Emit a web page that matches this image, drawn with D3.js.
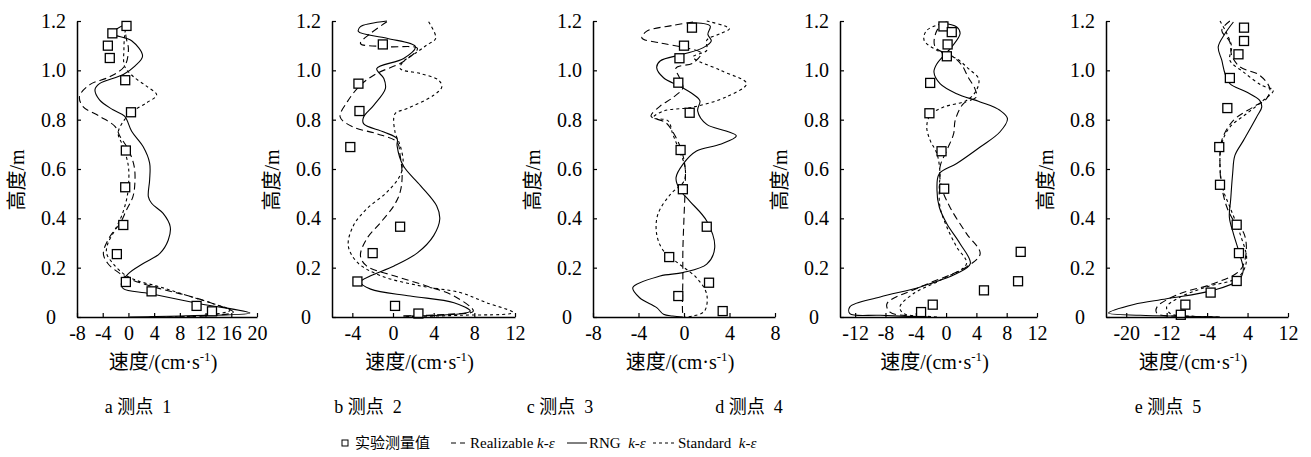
<!DOCTYPE html>
<html lang="zh">
<head>
<meta charset="UTF-8">
<title>测点速度剖面</title>
<script src="https://d3js.org/d3.v7.min.js"></script>
<style>
  body { margin: 0; background: #fff; }
  svg { font-family: "Liberation Serif", "Times New Roman", "Noto Sans CJK SC", serif; }
  .tick text { font-family: "Liberation Serif", "Times New Roman", serif; }
</style>
</head>
<body>
<svg width="1311" height="457"></svg>
<script>

// ---- data: [speed (cm/s), height (m)] ----
const heightTicks = [0, 0.2, 0.4, 0.6, 0.8, 1.0, 1.2];
const captions = ["a 测点 1", "b 测点 2", "c 测点 3", "d 测点 4", "e 测点 5"];
const xDomains = [[-8, 20], [-6, 12], [-8, 8], [-14, 12], [-24, 12]];
const xTicks = [
    [-8, -4, 0, 4, 8, 12, 16, 20],
    [-4, 0, 4, 8, 12],
    [-8, -4, 0, 4, 8],
    [-12, -8, -4, 0, 4, 8, 12],
    [-20, -12, -4, 4, 12]
];

const exp1 = [[-0.3,1.18],[-2.5,1.15],[-3.2,1.10],[-2.9,1.05],[-0.5,0.96],[0.4,0.83],[-0.4,0.675],[-0.5,0.526],[-0.8,0.373],[-1.8,0.255],[-0.4,0.142],[3.6,0.104],[10.6,0.045],[13.0,0.023]];
const rng1 = [[-0.2,1.19],[-2.5,1.15],[0.5,1.12],[2.2,1.058],[1.0,1.017],[-0.8,0.983],[-4.5,0.946],[-5.2,0.922],[-4.5,0.88],[-2.4,0.84],[-0.6,0.814],[0.5,0.753],[2.3,0.69],[3.3,0.624],[3.3,0.556],[3.1,0.488],[3.6,0.461],[5.4,0.42],[6.5,0.366],[6.2,0.312],[4.9,0.258],[2.3,0.217],[0,0.176],[-1.1,0.136],[-0.8,0.115],[3.3,0.095],[11.1,0.054],[18.9,0.016],[9.0,0.005],[0.2,0]];
const real1 = [[-0.3,1.19],[-0.4,1.14],[0,1.085],[-0.6,1.017],[-2.9,0.974],[-6.0,0.942],[-7.6,0.895],[-7.1,0.854],[-4.5,0.814],[-2.1,0.773],[-1.3,0.732],[0,0.678],[0.9,0.61],[1.0,0.542],[0.7,0.488],[-0.3,0.434],[-1.3,0.38],[-2.9,0.325],[-3.9,0.258],[-3.2,0.217],[-1.3,0.176],[0.7,0.149],[4.9,0.115],[9.0,0.088],[13.2,0.054],[16.3,0.02],[11.1,0.003],[3.3,0]];
const std1 = [[-0.3,1.19],[-0.6,1.14],[-0.7,1.085],[-0.6,1.017],[0.7,0.976],[2.8,0.936],[4.4,0.9],[2.8,0.868],[0.7,0.834],[-0.6,0.8],[-1.6,0.746],[-0.8,0.69],[0,0.61],[0,0.529],[-0.3,0.475],[-1.1,0.407],[-2.1,0.353],[-3.2,0.298],[-3.4,0.258],[-2.4,0.217],[-0.8,0.176],[1.2,0.149],[4.9,0.122],[9.0,0.088],[13.2,0.054],[15.8,0.027],[11.1,0.005],[3.3,0]];

const exp2 = [[-1.0,1.105],[-3.4,0.946],[-3.3,0.835],[-4.2,0.689],[0.7,0.366],[-2.0,0.259],[-3.5,0.144],[0.2,0.045],[2.5,0.014]];
const rng2 = [[-0.6,1.2],[-2.2,1.19],[-3.2,1.177],[-3.4,1.157],[-0.6,1.13],[2.2,1.096],[1.05,1.048],[-1.6,1.007],[-0.9,0.967],[-0.75,0.926],[-1.9,0.858],[-2.9,0.81],[-2.9,0.784],[-0.9,0.75],[0.4,0.723],[0.4,0.695],[1.0,0.614],[2.7,0.533],[4.3,0.45],[4.6,0.397],[4.0,0.33],[2.4,0.26],[0.1,0.207],[-2.2,0.167],[-3.2,0.142],[-2.2,0.113],[1.7,0.085],[6.0,0.058],[7.6,0.024],[6.6,0.013],[1.0,0.004]];
const real2 = [[-0.6,1.197],[-2.2,1.15],[-3.2,1.109],[-0.6,1.096],[2.4,1.089],[1.0,1.035],[-1.6,0.987],[-3.2,0.94],[-4.5,0.872],[-5.2,0.811],[-3.9,0.77],[-1.6,0.743],[0.4,0.709],[0.7,0.655],[0.9,0.574],[0.7,0.506],[0.1,0.452],[-1.2,0.384],[-2.6,0.316],[-3.2,0.248],[-2.6,0.207],[0.1,0.167],[3.3,0.126],[6.0,0.085],[7.9,0.024],[5.3,0.011],[1.0,0.004]];
const std2 = [[3.5,1.197],[4.2,1.13],[3.3,1.102],[2.4,1.075],[1.0,1.035],[0.7,1.007],[2.7,0.987],[4.5,0.96],[4.8,0.933],[4.0,0.899],[1.4,0.845],[0.2,0.824],[0.2,0.75],[0.7,0.696],[1.0,0.628],[0.7,0.574],[-0.6,0.506],[-2.6,0.438],[-3.9,0.37],[-4.4,0.289],[-3.5,0.221],[-1.2,0.167],[2.7,0.126],[6.6,0.099],[9.2,0.058],[11.8,0.018],[6.6,0.007],[1.0,0.001]];

const exp3 = [[0.7,1.173],[0,1.1],[-0.4,1.049],[-0.5,0.95],[0.5,0.828],[-0.3,0.677],[-0.1,0.518],[2.0,0.366],[-1.3,0.243],[2.2,0.139],[-0.5,0.085],[3.4,0.024]];
const rng3 = [[0.5,1.193],[2.3,1.18],[2.1,1.146],[2.4,1.119],[1.7,1.092],[-0.1,1.065],[-2.1,1.038],[-2.4,1.011],[-1.8,0.97],[-0.4,0.936],[0.8,0.903],[1.4,0.876],[1.2,0.836],[2.0,0.781],[3.7,0.754],[4.6,0.734],[3.2,0.7],[1.1,0.673],[-0.1,0.619],[-0.7,0.565],[-0.4,0.518],[0.5,0.47],[2.0,0.389],[2.7,0.281],[2.0,0.214],[-0.1,0.18],[-2.1,0.166],[-4.5,0.119],[-3.9,0.078],[-2.4,0.038],[-1.8,0.011],[-1.0,0.004],[-0.1,0]];
const real3 = [[0.8,1.196],[-1.0,1.182],[-3.3,1.158],[-3.7,1.131],[-2.1,1.111],[0.2,1.091],[1.5,1.07],[0.8,1.03],[-0.7,1.009],[-0.4,0.97],[-0.1,0.929],[-1.0,0.889],[-2.1,0.855],[-2.9,0.814],[-1.6,0.788],[-0.7,0.727],[-0.2,0.673],[0.1,0.605],[0.1,0.524],[0,0.403],[-0.1,0.268],[-0.1,0.159],[-0.1,0.011],[0,0]];
const std3 = [[2.0,1.2],[4.0,1.169],[3.2,1.149],[2.0,1.122],[2.0,1.081],[0.8,1.054],[3.2,1.0],[5.5,0.946],[3.7,0.892],[0.8,0.851],[-1.8,0.835],[-2.7,0.808],[-1.4,0.795],[-1.0,0.743],[-0.4,0.673],[0.1,0.605],[0,0.551],[-1.2,0.497],[-2.3,0.416],[-2.4,0.335],[-1.8,0.268],[-0.4,0.214],[1.1,0.159],[2.0,0.092],[1.8,0.024],[0.8,0.004],[0,0]];

const exp4 = [[-0.35,1.178],[0.75,1.155],[0.2,1.105],[0.1,1.057],[-2.1,0.949],[-2.2,0.826],[-0.6,0.672],[-0.25,0.52],[9.85,0.264],[9.5,0.145],[5.0,0.108],[-1.76,0.05],[-3.3,0.02]];
const rng4 = [[-0.6,1.192],[1.4,1.176],[1.85,1.149],[0.75,1.095],[-1.2,1.027],[-1.6,0.993],[-0.8,0.946],[1.4,0.905],[4.5,0.872],[7.1,0.838],[8.1,0.804],[7.1,0.75],[4.5,0.689],[1.4,0.622],[-0.9,0.581],[-1.2,0.514],[-0.9,0.446],[0.1,0.378],[1.85,0.297],[3.2,0.216],[1.4,0.176],[-3.4,0.122],[-8.7,0.081],[-12.7,0.041],[-12.7,0.014],[-8.7,0.007],[-2.6,0]];
const real4 = [[0.1,1.196],[-1.2,1.162],[-1.45,1.095],[1.0,1.054],[2.1,1.02],[2.9,0.973],[3.8,0.926],[4.0,0.892],[2.3,0.865],[1.2,0.797],[1.0,0.743],[0.1,0.676],[-0.8,0.608],[-0.6,0.527],[0.5,0.446],[2.7,0.338],[4.5,0.257],[2.7,0.203],[-3.4,0.122],[-7.8,0.054],[-7.4,0.02],[-4.3,0.003],[-1.7,0]];
const std4 = [[0.1,1.196],[-2.55,1.162],[-2.9,1.122],[-1.2,1.081],[1.4,1.047],[2.95,1.007],[4.3,0.966],[4.0,0.919],[2.7,0.878],[-0.35,0.851],[-2.1,0.818],[-2.55,0.77],[-2.1,0.716],[-1.2,0.662],[-0.8,0.581],[-0.9,0.527],[-0.8,0.446],[0.1,0.365],[1.4,0.284],[2.7,0.216],[-0.8,0.149],[-4.3,0.095],[-6.1,0.041],[-5.6,0.014],[-2.55,0.003],[-1.2,0]];

const exp5 = [[3.3,1.173],[3.3,1.119],[2.2,1.065],[0.5,0.969],[0,0.847],[-1.6,0.689],[-1.45,0.536],[1.85,0.374],[2.3,0.259],[1.85,0.146],[-3.3,0.099],[-8.3,0.05],[-9.2,0.009]];
const rng5 = [[1.2,1.196],[-0.45,1.149],[-1.8,1.095],[-1.1,1.041],[-0.45,0.986],[0.5,0.946],[3.8,0.912],[6.4,0.878],[6.8,0.851],[5.8,0.811],[3.2,0.716],[1.5,0.655],[1.05,0.581],[0.65,0.473],[0.4,0.405],[1.2,0.338],[2.4,0.257],[3.15,0.189],[2.2,0.149],[-2.8,0.108],[-12.0,0.074],[-18.5,0.051],[-23.5,0.016],[-17.2,0.007],[-8.7,0.003],[-1.45,0]];
const real5 = [[0.5,1.2],[-1.1,1.162],[0.5,1.115],[0.85,1.061],[2.5,1.014],[6.4,0.98],[8.4,0.926],[7.75,0.885],[5.1,0.851],[1.2,0.797],[-1.1,0.716],[-1.45,0.608],[-1.1,0.527],[-0.1,0.446],[1.2,0.392],[3.3,0.338],[3.7,0.257],[2.5,0.189],[-2.8,0.135],[-9.3,0.095],[-13.9,0.041],[-13.9,0.014],[-9.3,0.003],[-2.8,0]];
const std5 = [[-1.45,1.2],[-0.1,1.149],[0.85,1.095],[0.5,1.041],[3.2,0.993],[6.8,0.939],[9.1,0.919],[7.1,0.878],[3.8,0.824],[0.5,0.77],[-1.1,0.703],[-1.45,0.608],[-0.8,0.514],[0.5,0.446],[2.5,0.338],[3.8,0.23],[2.2,0.162],[-4.1,0.122],[-9.3,0.081],[-12.0,0.041],[-11.3,0.014],[-6.7,0.003],[-1.45,0]];

const expData = [exp1, exp2, exp3, exp4, exp5];
const rngData = [rng1, rng2, rng3, rng4, rng5];
const realData = [real1, real2, real3, real4, real5];
const stdData = [std1, std2, std3, std4, std5];

// ---- layout ----
const svg = d3.select("svg");
const axisX = [[77, 257], [332, 515], [593, 775], [840, 1037], [1106, 1288]];
const captionX = [138, 368, 560, 749, 1168];
const yScale = d3.scaleLinear().domain([0, 1.2]).range([317, 21]);
const fontFam = '"Liberation Serif", "Times New Roman", "Noto Sans CJK SC", serif';

const dashReal = "7,4";
const dashStd = "3,3";

expData.forEach((_, i) => {
    const xScale = d3.scaleLinear().domain(xDomains[i]).range(axisX[i]);
    const g = svg.append("g");

    const line = d3.line()
        .x(d => xScale(d[0]))
        .y(d => yScale(d[1]))
        .curve(d3.curveCatmullRom.alpha(0.5));

    g.append("path").datum(stdData[i])
        .attr("d", line).attr("fill", "none")
        .attr("stroke", "#000").attr("stroke-width", 1.1)
        .attr("stroke-dasharray", dashStd);
    g.append("path").datum(realData[i])
        .attr("d", line).attr("fill", "none")
        .attr("stroke", "#000").attr("stroke-width", 1.1)
        .attr("stroke-dasharray", dashReal);
    g.append("path").datum(rngData[i])
        .attr("d", line).attr("fill", "none")
        .attr("stroke", "#000").attr("stroke-width", 1.1);

    // measured points
    g.selectAll(".pt")
        .data(expData[i])
        .join("rect")
        .attr("class", "pt")
        .attr("x", d => xScale(d[0]) - 4.5)
        .attr("y", d => yScale(d[1]) - 4.5)
        .attr("width", 9).attr("height", 9)
        .attr("fill", "#fff")
        .attr("stroke", "#000")
        .attr("stroke-width", 1.3);

    // x axis, ticks pointing inward
    g.append("g")
        .attr("transform", `translate(0, ${yScale(0)})`)
        .call(d3.axisBottom(xScale).tickValues(xTicks[i]).tickSizeInner(-4).tickSizeOuter(0).tickPadding(9).tickFormat(d => String(d)))
        .call(a => a.attr("font-family", fontFam).attr("font-size", 20))
        .call(a => a.select(".domain").attr("stroke-width", 1.5))
        .call(a => a.selectAll(".tick line").attr("stroke-width", 1.2));

    // y axis
    g.append("g")
        .attr("transform", `translate(${axisX[i][0]}, 0)`)
        .call(d3.axisLeft(yScale).tickValues(heightTicks).tickSizeInner(-4).tickSizeOuter(0).tickPadding(11)
            .tickFormat(d => d === 0 ? "0" : d3.format(".1f")(d)))
        .call(a => a.attr("font-family", fontFam).attr("font-size", 20))
        .call(a => a.select(".domain").attr("stroke-width", 1.5))
        .call(a => a.selectAll(".tick line").attr("stroke-width", 1.2))
        .call(a => a.selectAll(".tick text").filter(d => d === 0).attr("dx", -10));

    // axis titles
    const xt = g.append("text")
        .attr("x", (axisX[i][0] + axisX[i][1]) / 2 - 4)
        .attr("y", 369)
        .attr("text-anchor", "middle")
        .attr("font-family", fontFam)
        .attr("font-size", 20);
    xt.append("tspan").text("速度/(cm·s");
    xt.append("tspan").attr("dy", -8).attr("font-size", 13).text("-1");
    xt.append("tspan").attr("dy", 8).text(")");

    g.append("text")
        .attr("transform", `translate(${axisX[i][0] - 60}, 180) rotate(-90)`)
        .attr("text-anchor", "middle")
        .attr("dy", "0.35em")
        .attr("font-family", fontFam)
        .attr("font-size", 20)
        .text("高度/m");

    g.append("text")
        .attr("x", captionX[i])
        .attr("y", 413)
        .attr("text-anchor", "middle")
        .attr("font-family", fontFam)
        .attr("font-size", 18)
        .attr("xml:space", "preserve")
        .text(captions[i].replace(/ (\d)$/, "  $1"));
});

// ---- legend ----
const lg = svg.append("g").attr("font-family", fontFam).attr("font-size", 15);
const ly = 443;
lg.append("rect").attr("x", 342).attr("y", ly - 3).attr("width", 6).attr("height", 6)
    .attr("fill", "#fff").attr("stroke", "#000").attr("stroke-width", 1);
lg.append("text").attr("x", 355).attr("y", ly + 5).text("实验测量值");

lg.append("line").attr("x1", 451).attr("x2", 468).attr("y1", ly).attr("y2", ly)
    .attr("stroke", "#000").attr("stroke-dasharray", "5,4");
const t1 = lg.append("text").attr("x", 470).attr("y", ly + 5);
t1.append("tspan").text("Realizable ");
t1.append("tspan").attr("font-style", "italic").text("k");
t1.append("tspan").text("-");
t1.append("tspan").attr("font-style", "italic").text("ε");

lg.append("line").attr("x1", 567).attr("x2", 587).attr("y1", ly).attr("y2", ly)
    .attr("stroke", "#000");
const t2 = lg.append("text").attr("x", 589).attr("y", ly + 5).attr("xml:space", "preserve");
t2.append("tspan").text("RNG  ");
t2.append("tspan").attr("font-style", "italic").text("k");
t2.append("tspan").text("-");
t2.append("tspan").attr("font-style", "italic").text("ε");

lg.append("line").attr("x1", 653).attr("x2", 675).attr("y1", ly).attr("y2", ly)
    .attr("stroke", "#000").attr("stroke-dasharray", "3,3");
const t3 = lg.append("text").attr("x", 678).attr("y", ly + 5).attr("xml:space", "preserve");
t3.append("tspan").text("Standard  ");
t3.append("tspan").attr("font-style", "italic").text("k");
t3.append("tspan").text("-");
t3.append("tspan").attr("font-style", "italic").text("ε");

</script>
</body>
</html>
